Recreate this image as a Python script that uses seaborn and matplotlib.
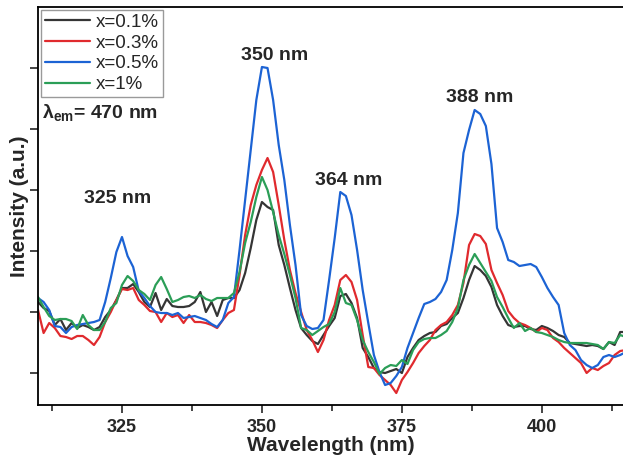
import numpy as np
import pandas as pd
import matplotlib
matplotlib.use("Agg")
import matplotlib.pyplot as plt
from matplotlib.ticker import MultipleLocator
import seaborn as sns

# ---------------------------------------------------------------------------
# Data (intensity in arbitrary units)
# ---------------------------------------------------------------------------
WAVELENGTH = list(range(310, 416))

X_01 = [103, 97, 94, 80, 86, 75, 82, 77, 80, 78,
        75, 78, 88, 95, 105, 117, 117, 121, 113, 103,
        98, 112, 95, 106, 99, 98, 98, 99, 103, 113,
        93, 103, 89, 105, 107, 107, 115, 132, 157, 185,
        203, 198, 195, 160, 140, 117, 95, 77, 70, 64,
        61, 70, 79, 87, 109, 111, 102, 87, 57, 48,
        37, 33, 32, 34, 36, 32, 48, 57, 65, 69,
        72, 73, 79, 81, 87, 92, 107, 125, 139, 135,
        129, 118, 100, 89, 80, 78, 79, 79, 76, 75,
        79, 77, 74, 70, 68, 62, 61, 60, 59, 60,
        59, 56, 63, 60, 73, 73]

X_03 = [95, 72, 82, 77, 69, 68, 66, 69, 69, 65,
        60, 68, 83, 93, 105, 116, 115, 117, 105, 100,
        94, 93, 83, 92, 88, 90, 82, 90, 83, 83,
        82, 80, 77, 85, 92, 95, 130, 170, 200, 220,
        235, 247, 233, 200, 165, 135, 112, 93, 75, 65,
        53, 65, 85, 100, 125, 130, 123, 105, 70, 38,
        37, 30, 25, 20, 12, 25, 33, 42, 52, 59,
        65, 75, 80, 83, 90, 100, 122, 160, 171, 169,
        161, 135, 122, 110, 94, 87, 82, 80, 77, 73,
        77, 75, 67, 63, 57, 52, 47, 42, 32, 37,
        35, 39, 42, 50, 54, 55]

X_05 = [107, 103, 95, 79, 78, 72, 78, 80, 81, 82,
        83, 85, 103, 127, 153, 168, 149, 138, 114, 107,
        99, 93, 92, 92, 90, 92, 87, 88, 89, 87,
        85, 81, 78, 85, 102, 108, 155, 205, 255, 305,
        338, 337, 305, 260, 225, 180, 140, 90, 79, 76,
        77, 85, 125, 167, 213, 209, 190, 155, 115, 82,
        50, 33, 20, 22, 29, 38, 57, 72, 87, 101,
        103, 106, 113, 125, 155, 192, 252, 275, 295, 291,
        279, 241, 177, 163, 145, 143, 139, 140, 141, 138,
        128, 117, 108, 100, 72, 60, 55, 45, 40, 37,
        40, 48, 50, 48, 50, 53]

X_1 = [108, 98, 89, 85, 86, 86, 84, 76, 90, 80,
       75, 75, 83, 97, 102, 120, 129, 124, 115, 111,
       105, 120, 128, 116, 103, 105, 108, 109, 107, 110,
       106, 104, 107, 107, 107, 112, 133, 162, 183, 208,
       228, 215, 193, 170, 151, 130, 107, 77, 75, 70,
       74, 78, 81, 93, 117, 102, 100, 85, 65, 53,
       43, 31, 37, 40, 39, 45, 41, 55, 63, 66,
       67, 67, 70, 74, 83, 97, 125, 140, 151, 142,
       133, 124, 108, 98, 87, 77, 82, 74, 77, 73,
       72, 70, 68, 65, 63, 62, 62, 62, 62, 61,
       60, 56, 63, 62, 70, 68]

SERIES = ["x=0.1%", "x=0.3%", "x=0.5%", "x=1%"]
COLORS = ["#353535", "#e02a2e", "#1c63d4", "#2b9e57"]

PEAK_LABELS = ["325 nm", "350 nm", "364 nm", "388 nm"]
PEAK_X = [324.3, 352.3, 365.5, 388.9]
PEAK_Y = [207, 350, 225, 308]


def main():
    sns.set_style("ticks")
    plt.rcParams["font.family"] = ["Liberation Sans", "DejaVu Sans"]
    plt.rcParams["mathtext.fontset"] = "custom"
    plt.rcParams["mathtext.rm"] = "Liberation Sans"
    plt.rcParams["mathtext.bf"] = "Liberation Sans:bold"
    plt.rcParams["mathtext.it"] = "Liberation Sans:italic"

    frames = []
    for name, vals in zip(SERIES, [X_01, X_03, X_05, X_1]):
        frames.append(pd.DataFrame({"Wavelength": WAVELENGTH,
                                    "Intensity": vals,
                                    "Sample": name}))
    df = pd.concat(frames, ignore_index=True)

    fig = plt.figure(figsize=(6.23, 4.58), dpi=100)
    ax = fig.add_axes([0.061, 0.1157, 0.939, 0.869])

    sns.lineplot(data=df, x="Wavelength", y="Intensity", hue="Sample",
                 palette=dict(zip(SERIES, COLORS)), estimator=None,
                 sort=False, linewidth=1.6, ax=ax)

    ax.set_xlim(310, 414.5)
    ax.set_ylim(0, 398)
    ax.xaxis.set_major_locator(MultipleLocator(25))
    ax.xaxis.set_minor_locator(MultipleLocator(12.5))
    ax.set_yticks(np.arange(32, 398, 61))
    ax.set_yticklabels([])

    ax.tick_params(axis="x", which="major", direction="out", length=6,
                   width=1.2, pad=4, labelsize=13)
    ax.tick_params(axis="x", which="minor", direction="out", length=4,
                   width=1.2)
    ax.tick_params(axis="y", direction="out", length=6, width=1.2)
    for lab in ax.get_xticklabels():
        lab.set_fontweight("bold")

    ax.spines["right"].set_visible(False)
    for side in ["left", "bottom", "top"]:
        ax.spines[side].set_linewidth(1.3)
        ax.spines[side].set_color("black")

    ax.set_xlabel("Wavelength (nm)", fontsize=15, fontweight="bold",
                  labelpad=0)
    ax.set_ylabel("Intensity (a.u.)", fontsize=15, fontweight="bold",
                  labelpad=-3)

    for lab, px, py in zip(PEAK_LABELS, PEAK_X, PEAK_Y):
        ax.text(px, py, lab, ha="center", va="center", fontsize=14,
                fontweight="bold")

    ax.text(0.006, 0.735, "λ$_{\\mathbf{em}}$= 470 nm",
            transform=ax.transAxes, ha="left", va="center", fontsize=14,
            fontweight="bold")

    ax.legend(loc="upper left", fontsize=13.5, frameon=True, fancybox=False,
              edgecolor="#9a9a9a", framealpha=1, handlelength=2.4,
              handletextpad=0.35, labelspacing=0.2, borderpad=0.2,
              borderaxespad=0.15, title=None)

    fig.savefig("out.png", dpi=100)
    plt.close(fig)


if __name__ == "__main__":
    main()
